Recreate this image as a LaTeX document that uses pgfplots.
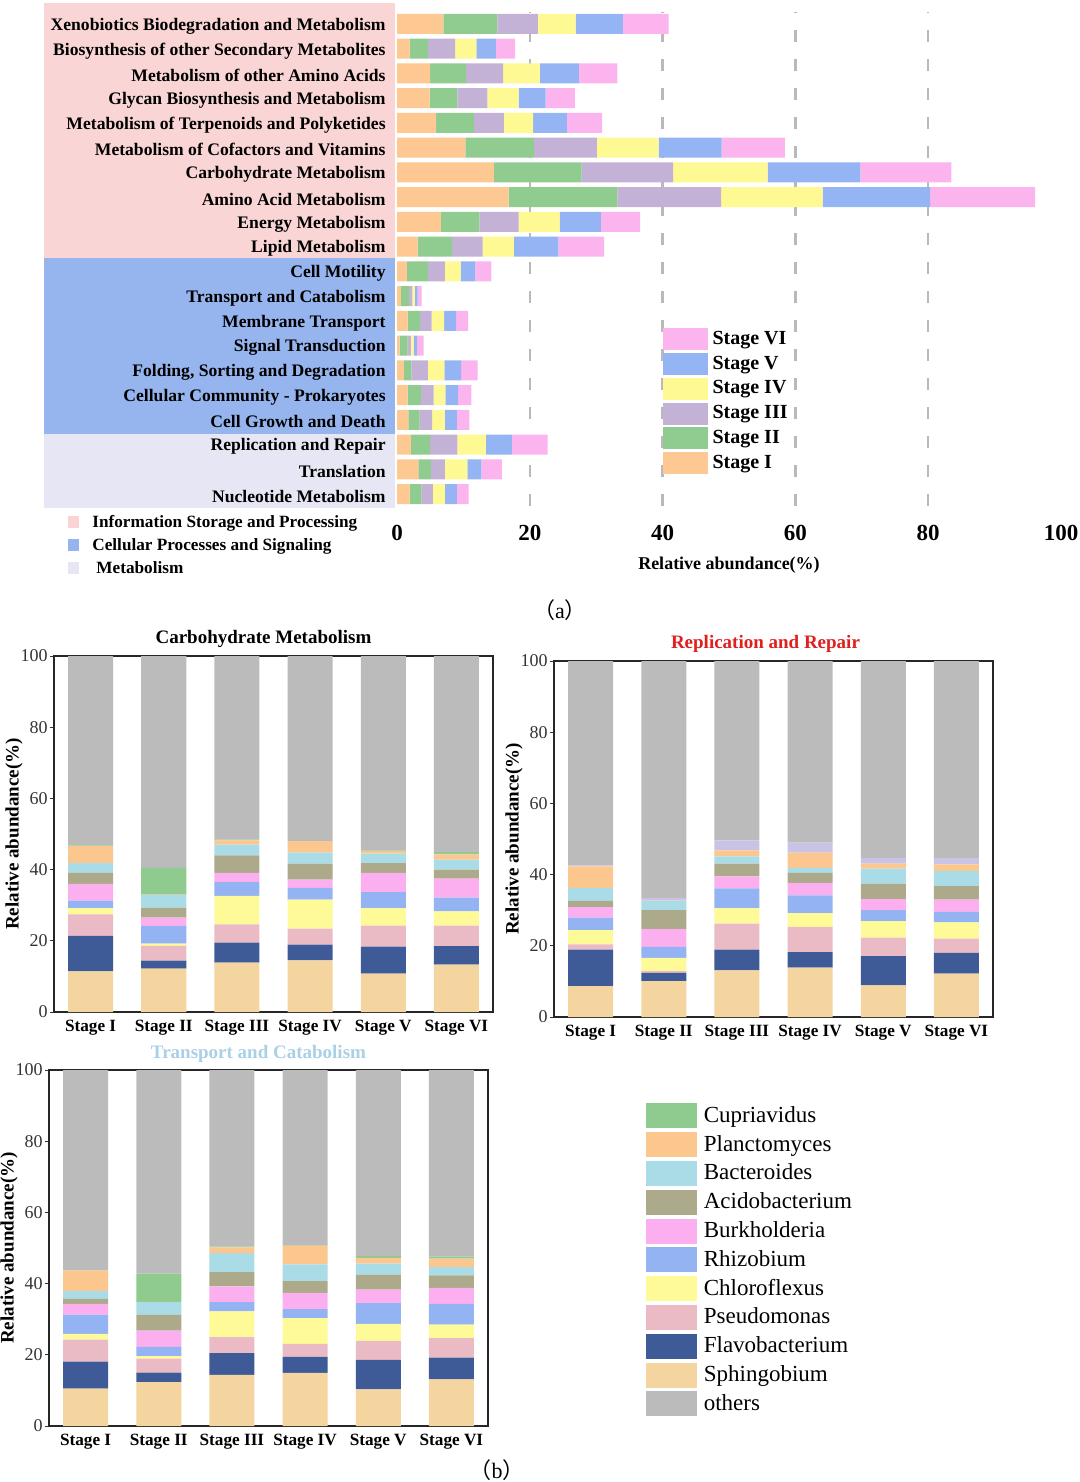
\documentclass[border=0pt]{standalone}
\usepackage{pgfplots}
\pgfplotsset{compat=1.18}
\usepackage{pgfplotstable}
\usepackage{fontspec}
\setmainfont{Liberation Serif}
\newfontfamily\cjk{Noto Sans CJK SC}

% stage colours (a)
\definecolor{sI}{HTML}{FDC891}
\definecolor{sII}{HTML}{90CB90}
\definecolor{sIII}{HTML}{C4B1D6}
\definecolor{sIV}{HTML}{FEF993}
\definecolor{sV}{HTML}{95B4F3}
\definecolor{sVI}{HTML}{FCB4EE}
\definecolor{bgPink}{HTML}{F9D5D5}
\definecolor{bgBlue}{HTML}{96B5EE}
\definecolor{bgLav}{HTML}{E6E6F4}
% genus colours (b)
\definecolor{cSph}{HTML}{F4D49F}
\definecolor{cFla}{HTML}{3E5B98}
\definecolor{cPse}{HTML}{EBBBC5}
\definecolor{cChl}{HTML}{FEFA98}
\definecolor{cRhi}{HTML}{94B3F2}
\definecolor{cBur}{HTML}{FCAFEF}
\definecolor{cAci}{HTML}{ADAA8B}
\definecolor{cBac}{HTML}{AADCE8}
\definecolor{cPla}{HTML}{FCC68F}
\definecolor{cCup}{HTML}{8FCA8F}
\definecolor{cLav}{HTML}{C9C4E6}
\definecolor{cOth}{HTML}{BBBBBB}
\definecolor{titleRed}{HTML}{E0201E}
\definecolor{titleBlue}{HTML}{A9D0E6}

% (a) KEGG level-2 pathways, y=0 bottom (Nucleotide) .. y=19 top (Xenobiotics)
\pgfplotstableread{
y s1 s2 s3 s4 s5 s6
0 1.9 1.8 1.7 1.8 1.8 1.8
1 3.2 1.9 2.1 3.4 2.1 3.1
2 2.1 2.9 4.1 4.3 3.9 5.4
3 1.7 1.7 1.9 1.9 1.8 1.9
4 1.6 2.0 1.9 1.8 1.9 2.0
5 1.05 1.1 2.5 2.5 2.5 2.5
6 0.4 1.2 0.5 0.4 0.5 1.0
7 1.6 1.9 1.7 1.9 1.8 1.8
8 0.6 1.2 0.5 0.4 0.4 0.6
9 1.5 3.2 2.5 2.4 2.2 2.4
10 3.1 5.2 4.6 4.7 6.7 6.9
11 6.6 5.8 5.9 6.2 6.2 5.9
12 16.8 16.4 15.6 15.3 16.2 15.8
13 14.6 13.2 13.8 14.2 14.0 13.7
14 10.3 10.3 9.5 9.3 9.5 9.5
15 5.9 5.7 4.5 4.4 5.1 5.3
16 4.9 4.2 4.5 4.7 4.1 4.4
17 5.0 5.4 5.6 5.5 5.9 5.8
18 1.9 2.8 4.05 3.2 2.95 2.9
19 7.0 8.1 6.1 5.7 7.1 6.9
}\tabA

% (b) genus composition per stage
\pgfplotstableread{
x Sph Fla Pse Chl Rhi Bur Aci Bac Pla Top Oth
0 11.4 10.0 6.0 1.8 2.1 4.7 3.1 2.7 4.8 0.2 53.2
1 12.2 2.2 4.2 0.6 5.0 2.3 2.8 3.5 0.2 7.5 59.5
2 13.9 5.6 5.1 8.0 3.9 2.6 4.9 3.0 1.2 0.2 51.6
3 14.5 4.4 4.5 8.2 3.3 2.3 4.5 3.1 3.2 0.1 51.9
4 10.8 7.6 5.9 4.9 4.5 5.4 2.7 2.7 0.7 0.2 54.6
5 13.3 5.2 5.8 4.0 3.8 5.4 2.5 2.8 1.5 0.6 55.1
}\tabCarb
\pgfplotstableread{
x Sph Fla Pse Chl Rhi Bur Aci Bac Pla Top Oth
0 8.7 10.2 1.5 4.0 3.5 3.0 1.7 3.6 6.1 0.2 57.5
1 10.1 2.3 0.5 3.7 3.1 5.0 5.3 2.6 0.1 0.8 66.5
2 13.1 5.8 7.3 4.4 5.5 3.4 3.6 2.0 1.7 2.8 50.4
3 13.9 4.3 7.1 3.9 5.0 3.5 2.8 1.4 4.3 2.8 51.0
4 8.9 8.2 5.2 4.6 3.1 3.1 4.4 4.2 1.4 1.6 55.3
5 12.2 5.8 4.0 4.6 2.9 3.5 3.8 4.2 1.9 1.8 55.3
}\tabRepl
\pgfplotstableread{
x Sph Fla Pse Chl Rhi Bur Aci Bac Pla Top Oth
0 10.5 7.6 6.2 1.6 5.4 3.0 1.4 2.2 5.8 0.1 56.2
1 12.3 2.7 3.9 0.7 2.6 4.6 4.5 3.5 0.1 7.9 57.2
2 14.4 6.1 4.5 7.2 2.6 4.4 4.0 5.4 1.6 0.2 49.6
3 14.9 4.5 3.7 7.2 2.5 4.6 3.3 4.7 5.3 0.1 49.2
4 10.3 8.3 5.3 4.8 5.8 3.8 4.2 3.1 1.6 0.5 52.3
5 13.1 6.1 5.5 3.8 5.8 4.5 3.5 2.3 2.4 0.6 52.4
}\tabTrans

\pgfplotsset{
  stagebars/.style={
    ybar stacked, bar width=22.5pt, scale only axis,
    width=219.5pt, height=178pt,
    xmin=-0.5, xmax=5.5, ymin=0, ymax=100,
    xtick={0,...,5},
    xticklabels={Stage I,Stage II,Stage III,Stage IV,Stage V,Stage VI},
    ytick={0,20,...,100},
    ytick pos=left,
    /pgf/number format/assume math mode=true,
    axis line style={line width=0.6pt, black!85},
    xtick style={draw=none},
    ytick style={line width=0.5pt, black!80},
    tick align=outside, major tick length=2pt,
    yticklabel style={font=\fontsize{9}{10}\selectfont, text=black!80, inner sep=1pt},
    xticklabel style={font=\fontsize{8.6}{10}\selectfont\bfseries, inner sep=0pt, anchor=north, yshift=-2pt},
    ylabel={Relative abundance(\%)},
    ylabel style={font=\fontsize{9.5}{11}\selectfont\bfseries, at={(axis description cs:-0.0911,0.5)}, anchor=center},
    title style={font=\fontsize{9.5}{11}\selectfont\bfseries, at={(axis description cs:0.5,1)}, anchor=center, yshift=2.5pt, xshift=-5pt},
  }
}
\newcommand{\genusbars}[2]{%
  \addplot[fill=cSph, draw=none] table[x=x, y=Sph] {#1};
  \addplot[fill=cFla, draw=none] table[x=x, y=Fla] {#1};
  \addplot[fill=cPse, draw=none] table[x=x, y=Pse] {#1};
  \addplot[fill=cChl, draw=none] table[x=x, y=Chl] {#1};
  \addplot[fill=cRhi, draw=none] table[x=x, y=Rhi] {#1};
  \addplot[fill=cBur, draw=none] table[x=x, y=Bur] {#1};
  \addplot[fill=cAci, draw=none] table[x=x, y=Aci] {#1};
  \addplot[fill=cBac, draw=none] table[x=x, y=Bac] {#1};
  \addplot[fill=cPla, draw=none] table[x=x, y=Pla] {#1};
  \addplot[fill=#2, draw=none] table[x=x, y=Top] {#1};
  \addplot[fill=cOth, draw=none] table[x=x, y=Oth] {#1};
}

\begin{document}
\begin{tikzpicture}
\useasboundingbox (0pt,0pt) rectangle (540pt,-741pt);

% category background bands and their key, pixel coordinates
\begin{scope}[x=0.5pt, y=-0.5pt]
  \fill[bgPink] (44,3) rectangle (395,258);
  \fill[bgBlue] (44,258) rectangle (395,434);
  \fill[bgLav] (44,434) rectangle (395,508);
  \fill[bgPink!85!red!60] (68,516) rectangle (79,528);
  \fill[bgBlue] (68,539) rectangle (79,551);
  \fill[bgLav] (68,562) rectangle (79,574);
  \begin{scope}[every node/.style={anchor=base west, inner sep=0pt, font=\fontsize{8.6}{10}\selectfont\bfseries}]
    \node at (92,527) {Information Storage and Processing};
    \node at (92,550) {Cellular Processes and Signaling};
    \node at (96,573) {Metabolism};
  \end{scope}
  \node[font=\fontsize{11}{12}\selectfont] at (560,610) {{\cjk （}a{\cjk ）}};
  \node[font=\fontsize{11}{12}\selectfont] at (497,1470) {{\cjk （}b{\cjk ）}};
\end{scope}

% (a)
\begin{axis}[
  at={(198.5pt,-253.2pt)}, anchor=south west,
  scale only axis, width=332pt, height=247.4pt,
  xbar stacked, bar width=10pt,
  xmin=0, xmax=100, ymin=-0.5, ymax=19.5,
  axis x line*=bottom, axis y line*=left,
  axis line style={draw=none},
  major tick length=0pt,
  xtick={0,20,...,100},
  /pgf/number format/assume math mode=true,
  xticklabel style={font=\fontsize{11.5}{12}\selectfont\bfseries, inner sep=0pt, anchor=north, yshift=-9.4pt},
  extra x ticks={20,40,60,80}, extra x tick labels={},
  extra x tick style={grid=major, major grid style={gray!55, line width=1.2pt, dash pattern=on 6pt off 8.5pt}},
  ytick={0,...,19},
  yticklabels={Nucleotide Metabolism, Translation, Replication and Repair,
    Cell Growth and Death, Cellular Community - Prokaryotes,
    {Folding, Sorting and Degradation}, Signal Transduction, Membrane Transport,
    Transport and Catabolism, Cell Motility, Lipid Metabolism, Energy Metabolism,
    Amino Acid Metabolism, Carbohydrate Metabolism,
    Metabolism of Cofactors and Vitamins, Metabolism of Terpenoids and Polyketides,
    Glycan Biosynthesis and Metabolism, Metabolism of other Amino Acids,
    Biosynthesis of other Secondary Metabolites,
    Xenobiotics Biodegradation and Metabolism},
  yticklabel style={font=\fontsize{8.8}{10}\selectfont\bfseries, anchor=east, inner sep=0pt, xshift=-5.5pt, yshift=-1pt},
  xlabel={Relative abundance(\%)},
  xlabel style={font=\fontsize{9}{10}\selectfont\bfseries, at={(axis description cs:0.5,0)}, anchor=center, yshift=-29.3pt},
  reverse legend,
  legend image code/.code={\fill[#1] (0pt,-5.5pt) rectangle (22.5pt,5.5pt);},
  legend style={draw=none, fill=none, inner sep=0pt, row sep=1.35pt,
    at={(axis description cs:0.4006,0.3605)}, anchor=north west,
    font=\fontsize{10}{11}\selectfont\bfseries,
    nodes={inner sep=0.6pt},
    /tikz/every odd column/.append style={column sep=1.5pt}},
  legend cell align=left,
]
\addplot[fill=sI, draw=none] table[x=s1, y=y] {\tabA};
\addlegendentry{Stage I}
\addplot[fill=sII, draw=none] table[x=s2, y=y] {\tabA};
\addlegendentry{Stage II}
\addplot[fill=sIII, draw=none] table[x=s3, y=y] {\tabA};
\addlegendentry{Stage III}
\addplot[fill=sIV, draw=none] table[x=s4, y=y] {\tabA};
\addlegendentry{Stage IV}
\addplot[fill=sV, draw=none] table[x=s5, y=y] {\tabA};
\addlegendentry{Stage V}
\addplot[fill=sVI, draw=none] table[x=s6, y=y] {\tabA};
\addlegendentry{Stage VI}
\end{axis}

% (b) Carbohydrate Metabolism
\begin{axis}[stagebars, at={(27pt,-506pt)}, anchor=south west,
  title={Carbohydrate Metabolism}]
\genusbars{\tabCarb}{cCup}
\end{axis}

% (b) Replication and Repair
\begin{axis}[stagebars, at={(277pt,-508.5pt)}, anchor=south west,
  title={Replication and Repair}, title style={text=titleRed, xshift=1pt, yshift=0pt}]
\genusbars{\tabRepl}{cLav}
\end{axis}

% (b) Transport and Catabolism, with the genus key
\begin{axis}[stagebars, at={(24.5pt,-713pt)}, anchor=south west,
  title={Transport and Catabolism}, title style={text=titleBlue, yshift=-0.5pt},
  legend image code/.code={\fill[#1] (0pt,-6.25pt) rectangle (25.5pt,6.25pt);},
  legend style={draw=none, fill=none, inner sep=0pt, row sep=1.9pt,
    at={(axis description cs:1.36,0.9076)}, anchor=north west,
    font=\fontsize{11.5}{12.5}\selectfont,
    nodes={inner sep=0.7pt},
    /tikz/every odd column/.append style={column sep=2.5pt}},
  legend cell align=left,
]
\addlegendimage{fill=cCup, draw=none}\addlegendentry{Cupriavidus}
\addlegendimage{fill=cPla, draw=none}\addlegendentry{Planctomyces}
\addlegendimage{fill=cBac, draw=none}\addlegendentry{Bacteroides}
\addlegendimage{fill=cAci, draw=none}\addlegendentry{Acidobacterium}
\addlegendimage{fill=cBur, draw=none}\addlegendentry{Burkholderia}
\addlegendimage{fill=cRhi, draw=none}\addlegendentry{Rhizobium}
\addlegendimage{fill=cChl, draw=none}\addlegendentry{Chloroflexus}
\addlegendimage{fill=cPse, draw=none}\addlegendentry{Pseudomonas}
\addlegendimage{fill=cFla, draw=none}\addlegendentry{Flavobacterium}
\addlegendimage{fill=cSph, draw=none}\addlegendentry{Sphingobium}
\addlegendimage{fill=cOth, draw=none}\addlegendentry{others}
\genusbars{\tabTrans}{cCup}
\end{axis}
\end{tikzpicture}
\end{document}
